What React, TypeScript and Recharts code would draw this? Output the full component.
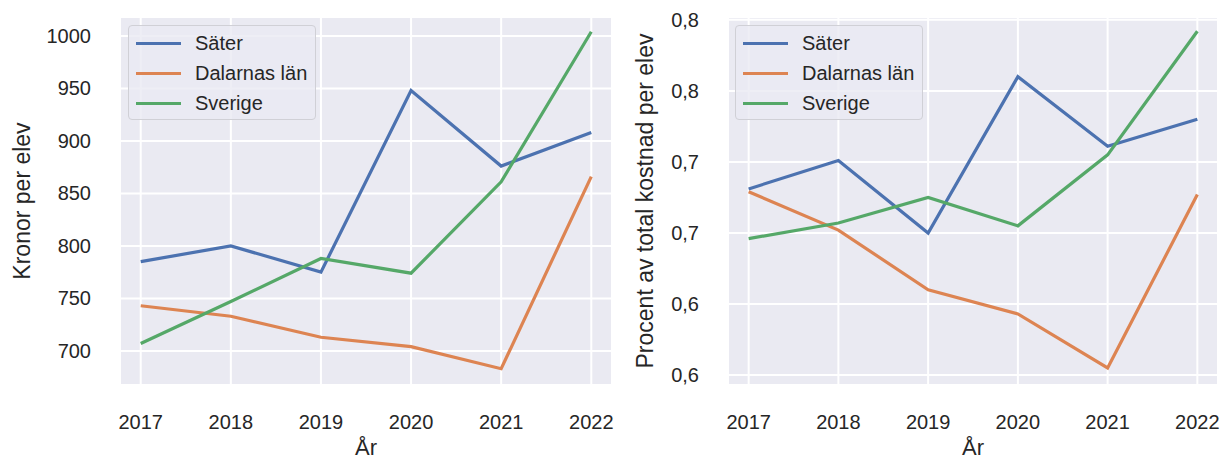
import React from 'react';
import { LineChart, Line, XAxis, YAxis, CartesianGrid } from 'recharts';

const years = [2017, 2018, 2019, 2020, 2021, 2022];

// Kronor per elev
const saterKr = [785, 800, 775, 948, 876, 908];
const dalarnaKr = [743, 733, 713, 704, 683, 866];
const sverigeKr = [707, 747, 788, 774, 861, 1004];

// Procent av total kostnad per elev
const saterPct = [0.681, 0.701, 0.65, 0.76, 0.711, 0.73];
const dalarnaPct = [0.679, 0.652, 0.61, 0.593, 0.555, 0.677];
const sverigePct = [0.646, 0.657, 0.675, 0.655, 0.705, 0.792];

const krTicks = [700, 750, 800, 850, 900, 950, 1000];
const pctTicks = [0.55, 0.6, 0.65, 0.7, 0.75, 0.8];

const seriesNames = ['Säter', 'Dalarnas län', 'Sverige'];
const seriesColors = ['#4c72b0', '#dd8452', '#55a868'];

const FONT = '"Liberation Sans", Arial, sans-serif';
const TEXT = '#262626';
const BG = '#eaeaf2';

const krData = years.map((y, i) => ({ year: y, s0: saterKr[i], s1: dalarnaKr[i], s2: sverigeKr[i] }));
const pctData = years.map((y, i) => ({ year: y, s0: saterPct[i], s1: dalarnaPct[i], s2: sverigePct[i] }));

const tickStyle = { fill: TEXT, fontSize: 20, fontFamily: FONT };

function LegendBox({ left }: { left: number }) {
  return (
    <div
      style={{
        position: 'absolute',
        left,
        top: 25,
        width: 188,
        height: 95,
        boxSizing: 'border-box',
        background: 'rgba(234,234,242,0.8)',
        border: '1px solid #d0d0d6',
        borderRadius: 4,
        fontFamily: FONT,
        fontSize: 20,
        color: TEXT,
      }}
    >
      {seriesNames.map((name, i) => (
        <div key={name} style={{ position: 'absolute', left: 7, top: 2 + i * 30, height: 30, display: 'flex', alignItems: 'center' }}>
          <div style={{ width: 45, height: 3, background: seriesColors[i], marginRight: 14 }} />
          <span style={{ whiteSpace: 'nowrap' }}>{name}</span>
        </div>
      ))}
    </div>
  );
}

const yLabel = (text: string, dx: number) => (props: any) => {
  const vb = props.viewBox;
  const x = vb.x + dx;
  const y = vb.y + vb.height / 2;
  return (
    <text
      x={x}
      y={y}
      transform={`rotate(-90, ${x}, ${y})`}
      textAnchor="middle"
      dominantBaseline="central"
      fill={TEXT}
      fontSize={23}
      fontFamily={FONT}
    >
      {text}
    </text>
  );
};

function Panel({
  width,
  data,
  ticks,
  domain,
  yWidth,
  rightMargin,
  label,
  labelDx,
  fmt,
}: {
  width: number;
  data: any[];
  ticks: number[];
  domain: [number, number];
  yWidth: number;
  rightMargin: number;
  label: string;
  labelDx: number;
  fmt: (v: number) => string;
}) {
  return (
    <LineChart width={width} height={461} data={data} margin={{ top: 17, right: rightMargin, bottom: 0, left: 0 }}>
      <CartesianGrid fill={BG} stroke="#ffffff" strokeWidth={2} vertical horizontal />
      <XAxis
        dataKey="year"
        type="number"
        domain={[2016.77, 2022.23]}
        ticks={years}
        allowDataOverflow
        axisLine={false}
        tickLine={false}
        tickSize={6}
        tickMargin={24}
        height={76}
        tick={tickStyle}
        label={{ value: 'År', position: 'insideBottom', offset: 6, fill: TEXT, fontSize: 22, fontFamily: FONT }}
      />
      <YAxis
        type="number"
        domain={domain}
        ticks={ticks}
        allowDataOverflow
        axisLine={false}
        tickLine={false}
        tickSize={6}
        tickMargin={23}
        width={yWidth}
        tick={tickStyle}
        tickFormatter={fmt}
        label={{ content: yLabel(label, labelDx) }}
      />
      {seriesNames.map((name, i) => (
        <Line
          key={name}
          dataKey={`s${i}`}
          name={name}
          stroke={seriesColors[i]}
          strokeWidth={3.2}
          dot={false}
          activeDot={false}
          isAnimationActive={false}
        />
      ))}
    </LineChart>
  );
}

export default function App() {
  return (
    <div style={{ position: 'absolute', left: 0, top: 0, width: 1223, height: 461, background: '#fff', display: 'flex' }}>
      <div style={{ position: 'relative', width: 615, height: 461 }}>
        <Panel
          width={615}
          data={krData}
          ticks={krTicks}
          domain={[667.5, 1018]}
          yWidth={120}
          rightMargin={3}
          label="Kronor per elev"
          labelDx={22}
          fmt={(v) => String(v)}
        />
        <LegendBox left={128} />
      </div>
      <div style={{ position: 'relative', width: 608, height: 461 }}>
        <Panel
          width={608}
          data={pctData}
          ticks={pctTicks}
          domain={[0.543, 0.802]}
          yWidth={113}
          rightMargin={5}
          label="Procent av total kostnad per elev"
          labelDx={30}
          fmt={(v) => v.toFixed(1).replace('.', ',')}
        />
        <LegendBox left={120} />
      </div>
    </div>
  );
}
